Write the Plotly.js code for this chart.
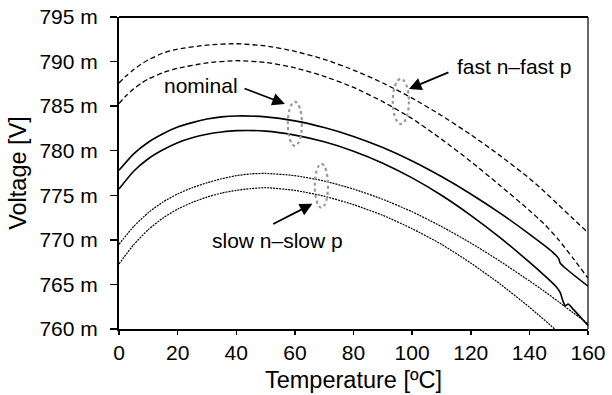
<!DOCTYPE html>
<html>
<head>
<meta charset="utf-8">
<script src="https://cdn.plot.ly/plotly-3.0.1.min.js"></script>
<style>html,body{margin:0;padding:0;background:#fff}#chart{width:612px;height:395px}</style>
</head>
<body>
<div id="chart"></div>
<script>
// ---- data ----
const tempFast = [0,2.5,5,7.5,10,15,20,30,40,50,60,70,80,90,100,110,120,130,140,145,150,155,160];
const fastUpper = [787.6,788.4,789.1,789.7,790.2,790.95,791.4,791.85,792.0,791.75,791.15,790.25,789.05,787.6,785.9,783.95,781.8,779.45,776.9,775.45,773.9,772.35,770.8];
const fastLower = [785.3,786.2,786.95,787.55,788.05,788.75,789.25,789.85,790.1,789.9,789.3,788.35,787.1,785.5,783.6,781.3,778.8,776.1,773.3,771.8,770.0,767.9,765.7];

const tempNomUpper = [0,5,10,15,20,25,30,35,40,50,60,70,80,90,100,110,120,130,140,145,148,150,150.5,152,160];
const nominalUpper = [777.8,779.65,780.95,781.9,782.65,783.15,783.55,783.8,783.9,783.8,783.35,782.6,781.6,780.35,778.85,777.1,775.15,773.0,770.65,769.4,768.6,767.9,767.4,766.9,764.8];

const tempNomLower = [0,5,10,15,20,25,30,35,40,50,60,70,80,90,100,110,120,130,140,145,149,150.5,151.5,152.3,153.2,155,160];
const nominalLower = [775.7,777.7,779.1,780.1,780.9,781.45,781.85,782.1,782.25,782.2,781.75,781.0,779.95,778.6,776.95,775.0,772.75,770.25,767.5,766.05,764.8,764.1,763.1,762.6,762.8,762.2,760.4];

const tempSlowUpper = [0,5,10,15,20,25,30,35,40,45,50,60,70,80,90,100,110,120,130,140,145,150,152,155,160];
const slowUpper = [769.5,771.5,773.05,774.25,775.15,775.85,776.4,776.85,777.2,777.4,777.45,777.2,776.6,775.7,774.55,773.15,771.5,769.65,767.6,765.4,764.25,763.05,762.55,761.8,760.6];

const tempSlowLower = [0,5,10,15,20,25,30,35,40,45,50,60,70,80,90,100,110,120,130,140,150,160];
const slowLower = [767.3,769.45,771.15,772.45,773.45,774.2,774.8,775.25,775.55,775.75,775.85,775.55,774.9,773.95,772.75,771.25,769.5,767.4,765.05,762.45,759.6,756.5];

const xTicks = [0,20,40,60,80,100,120,140,160];
const yTicks = [760,765,770,775,780,785,790,795];

const FONT = 'Arial, "Liberation Sans", sans-serif';

function line(x, y, dash, width) {
  return {x: x, y: y, type: 'scatter', mode: 'lines', hoverinfo: 'skip',
          line: {color: '#000', width: width, dash: dash, shape: 'spline', smoothing: 0.6}};
}

const traces = [
  line(tempFast, fastUpper, '5px,3px', 1.3),
  line(tempFast, fastLower, '5px,3px', 1.3),
  line(tempNomUpper, nominalUpper, 'solid', 1.6),
  line(tempNomLower, nominalLower, 'solid', 1.6),
  line(tempSlowUpper, slowUpper, '2px,1px', 1.2),
  line(tempSlowLower, slowLower, '2px,1px', 1.2)
];

const ellipseStyle = {color: '#999', width: 2.2, dash: 'dot'};
const shapes = [
  {type: 'circle', xref: 'x', yref: 'y', x0: 57.6, x1: 62.4, y0: 780.55, y1: 785.48, line: ellipseStyle},
  {type: 'circle', xref: 'x', yref: 'y', x0: 93.4, x1: 98.9, y0: 783.0, y1: 788.06, line: ellipseStyle},
  {type: 'circle', xref: 'x', yref: 'y', x0: 66.8, x1: 71.3, y0: 773.6, y1: 778.53, line: ellipseStyle},
  {type: 'line', xref: 'paper', yref: 'paper', x0: 1, x1: 1, y0: 0, y1: 1, line: {color: '#000', width: 1.2}},
  {type: 'line', xref: 'paper', yref: 'paper', x0: 0, x1: 1, y0: 1, y1: 1, line: {color: '#000', width: 2}}
];

const annFont = {family: FONT, size: 21, color: '#000'};
const arrowStyle = {showarrow: true, arrowhead: 2, arrowsize: 1.4, arrowwidth: 1.8, arrowcolor: '#000', standoff: 0, text: ''};
const annotations = [
  {xref: 'x', yref: 'y', x: 14.6, y: 787.3, text: 'nominal', showarrow: false, xanchor: 'left', yanchor: 'middle', font: annFont},
  Object.assign({xref: 'x', yref: 'y', axref: 'x', ayref: 'y', x: 56.6, y: 785.25, ax: 42.3, ay: 787.04}, arrowStyle),
  {xref: 'x', yref: 'y', x: 114.6, y: 789.4, text: 'fast n\u2013fast p', showarrow: false, xanchor: 'left', yanchor: 'middle', font: annFont},
  Object.assign({xref: 'x', yref: 'y', axref: 'x', ayref: 'y', x: 98.9, y: 786.93, ax: 112.9, ay: 788.85}, arrowStyle),
  {xref: 'x', yref: 'y', x: 31.0, y: 769.9, text: 'slow n\u2013slow p', showarrow: false, xanchor: 'left', yanchor: 'middle', font: annFont},
  Object.assign({xref: 'x', yref: 'y', axref: 'x', ayref: 'y', x: 66.0, y: 774.04, ax: 52.1, ay: 771.69}, arrowStyle)
];

const layout = {
  width: 612, height: 395,
  margin: {l: 119, r: 24, t: 17, b: 66},
  paper_bgcolor: '#fff', plot_bgcolor: '#fff',
  showlegend: false,
  font: {family: FONT, size: 21, color: '#000'},
  xaxis: {
    range: [0, 160], tickvals: xTicks, ticktext: xTicks.map(String),
    showgrid: false, zeroline: false, showline: true, linewidth: 2, linecolor: '#000',
    ticks: 'outside', ticklen: 4, tickwidth: 1.5, tickcolor: '#000',
    tickfont: {family: FONT, size: 21},
    title: {text: 'Temperature [\u00baC]', font: {family: FONT, size: 23.5}, standoff: 8}
  },
  yaxis: {
    range: [760, 795], tickvals: yTicks, ticktext: yTicks.map(v => v + ' m'),
    showgrid: false, zeroline: false, showline: true, linewidth: 2, linecolor: '#000',
    ticks: 'outside', ticklen: 7, tickwidth: 1.5, tickcolor: '#000',
    ticklabelstandoff: 8,
    tickfont: {family: FONT, size: 21},
    title: {text: 'Voltage [V]', font: {family: FONT, size: 23.5}, standoff: 6}
  },
  shapes: shapes,
  annotations: annotations
};

Plotly.newPlot('chart', traces, layout, {staticPlot: true, displayModeBar: false});
</script>
</body>
</html>
